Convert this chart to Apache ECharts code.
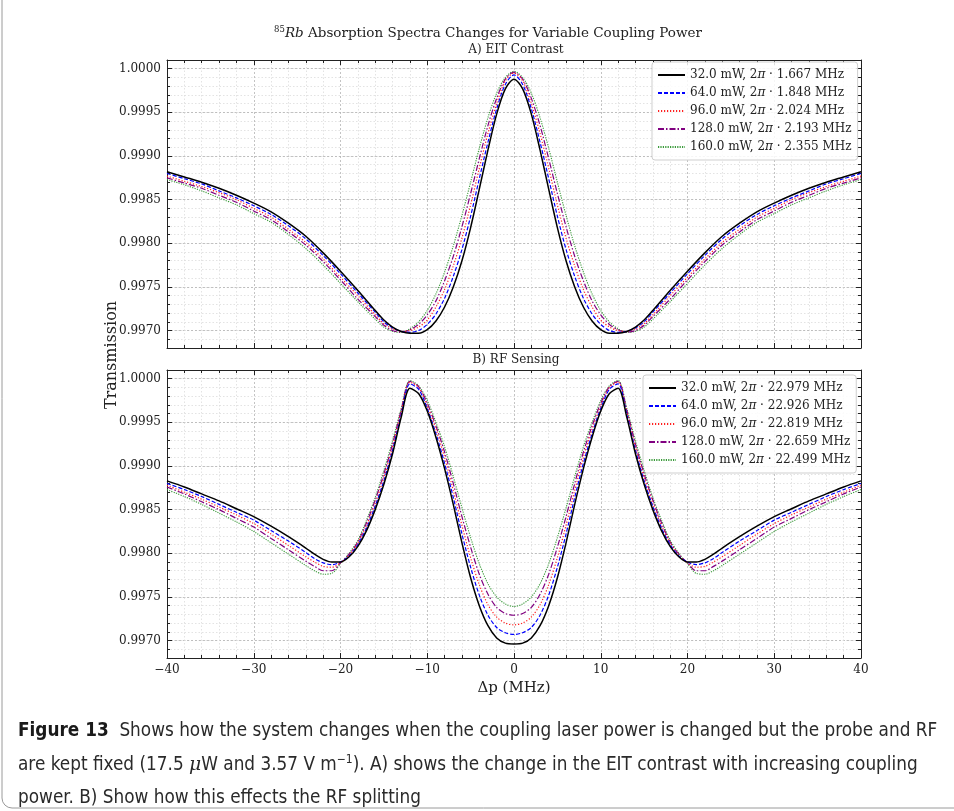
<!DOCTYPE html>
<html><head><meta charset="utf-8">
<script src="https://cdn.jsdelivr.net/npm/echarts@6/dist/echarts.min.js"></script>
<style>html,body{margin:0;padding:0;background:#fff}#c{width:954px;height:811px}</style>
</head><body><div id="c"></div>
<script>
// ---------- DATA ----------
const detuningA = [-40,-38,-36,-34,-32,-30,-28,-26,-24,-22,-20,-18,-16,-15,-14,-13,-12,-11,-10,-9,-8,-7,-6,-5,-4,-3,-2,-1,0,1,2,3,4,5,6,7,8,9,10,11,12,13,14,15,16,18,20,22,24,26,28,30,32,34,36,38,40];
const detuningB = [-40,-38,-36,-34,-32,-30,-28,-26,-24,-23,-22,-21,-20,-19,-18,-17,-16,-15,-14,-13,-12,-11,-10,-9,-8,-7,-6,-5,-4,-3,-2,-1,0,1,2,3,4,5,6,7,8,9,10,11,12,13,14,15,16,17,18,19,20,21,22,23,24,26,28,30,32,34,36,38,40];

const legendA = ['32.0 mW, 2π · 1.667 MHz','64.0 mW, 2π · 1.848 MHz','96.0 mW, 2π · 2.024 MHz','128.0 mW, 2π · 2.193 MHz','160.0 mW, 2π · 2.355 MHz'];
const legendB = ['32.0 mW, 2π · 22.979 MHz','64.0 mW, 2π · 22.926 MHz','96.0 mW, 2π · 22.819 MHz','128.0 mW, 2π · 22.659 MHz','160.0 mW, 2π · 22.499 MHz'];

// A) EIT contrast, transmission per coupling power
const eit32  = [0.99882,0.99876,0.99870,0.99863,0.99855,0.99846,0.99836,0.99823,0.99808,0.99789,0.99768,0.99746,0.99723,0.99712,0.99704,0.99699,0.99697,0.99697,0.99701,0.99711,0.99727,0.99750,0.99780,0.99818,0.99862,0.99907,0.99948,0.99977,0.99988,0.99977,0.99948,0.99907,0.99862,0.99818,0.99780,0.99750,0.99727,0.99711,0.99701,0.99697,0.99697,0.99699,0.99704,0.99712,0.99723,0.99746,0.99768,0.99789,0.99808,0.99823,0.99836,0.99846,0.99855,0.99863,0.99870,0.99876,0.99882];
const eit64  = [0.99880,0.99874,0.99868,0.99860,0.99852,0.99843,0.99833,0.99820,0.99805,0.99786,0.99765,0.99743,0.99721,0.99710,0.99703,0.99699,0.99698,0.99700,0.99707,0.99719,0.99737,0.99762,0.99793,0.99831,0.99874,0.99916,0.99954,0.99982,0.99993,0.99982,0.99954,0.99916,0.99874,0.99831,0.99793,0.99762,0.99737,0.99719,0.99707,0.99700,0.99698,0.99699,0.99703,0.99710,0.99721,0.99743,0.99765,0.99786,0.99805,0.99820,0.99833,0.99843,0.99852,0.99860,0.99868,0.99874,0.99880];
const eit96  = [0.99877,0.99871,0.99865,0.99858,0.99850,0.99840,0.99830,0.99816,0.99801,0.99782,0.99761,0.99740,0.99718,0.99708,0.99702,0.99699,0.99700,0.99704,0.99712,0.99727,0.99747,0.99774,0.99806,0.99844,0.99886,0.99926,0.99960,0.99986,0.99995,0.99986,0.99960,0.99926,0.99886,0.99844,0.99806,0.99774,0.99747,0.99727,0.99712,0.99704,0.99700,0.99699,0.99702,0.99708,0.99718,0.99740,0.99761,0.99782,0.99801,0.99816,0.99830,0.99840,0.99850,0.99858,0.99865,0.99871,0.99877];
const eit128 = [0.99875,0.99869,0.99863,0.99855,0.99847,0.99837,0.99827,0.99813,0.99798,0.99779,0.99758,0.99736,0.99716,0.99706,0.99700,0.99698,0.99701,0.99707,0.99718,0.99734,0.99757,0.99785,0.99819,0.99857,0.99897,0.99935,0.99966,0.99988,0.99996,0.99988,0.99966,0.99935,0.99897,0.99857,0.99819,0.99785,0.99757,0.99734,0.99718,0.99707,0.99701,0.99698,0.99700,0.99706,0.99716,0.99736,0.99758,0.99779,0.99798,0.99813,0.99827,0.99837,0.99847,0.99855,0.99863,0.99869,0.99875];
const eit160 = [0.99873,0.99867,0.99860,0.99852,0.99844,0.99834,0.99824,0.99810,0.99794,0.99775,0.99754,0.99733,0.99713,0.99704,0.99699,0.99698,0.99702,0.99710,0.99723,0.99742,0.99767,0.99797,0.99832,0.99870,0.99909,0.99944,0.99972,0.99990,0.99997,0.99990,0.99972,0.99944,0.99909,0.99870,0.99832,0.99797,0.99767,0.99742,0.99723,0.99710,0.99702,0.99698,0.99699,0.99704,0.99713,0.99733,0.99754,0.99775,0.99794,0.99810,0.99824,0.99834,0.99844,0.99852,0.99860,0.99867,0.99873];

// B) RF sensing, transmission per coupling power
const rf32  = [0.99883,0.99876,0.99868,0.99860,0.99851,0.99842,0.99831,0.99819,0.99806,0.99799,0.99793,0.99790,0.99790,0.99796,0.99808,0.99826,0.99850,0.99879,0.99914,0.99956,0.99989,0.99983,0.99963,0.99933,0.99897,0.99856,0.99812,0.99772,0.99740,0.99717,0.99703,0.99697,0.99696,0.99697,0.99703,0.99717,0.99740,0.99772,0.99812,0.99856,0.99897,0.99933,0.99963,0.99983,0.99989,0.99956,0.99914,0.99879,0.99850,0.99826,0.99808,0.99796,0.99790,0.99790,0.99793,0.99799,0.99806,0.99819,0.99831,0.99842,0.99851,0.99860,0.99868,0.99876,0.99883];
const rf64  = [0.99880,0.99873,0.99865,0.99856,0.99847,0.99838,0.99826,0.99814,0.99801,0.99794,0.99789,0.99787,0.99790,0.99797,0.99810,0.99829,0.99854,0.99883,0.99918,0.99959,0.99994,0.99988,0.99966,0.99937,0.99903,0.99864,0.99822,0.99784,0.99752,0.99729,0.99715,0.99709,0.99707,0.99709,0.99715,0.99729,0.99752,0.99784,0.99822,0.99864,0.99903,0.99937,0.99966,0.99988,0.99994,0.99959,0.99918,0.99883,0.99854,0.99829,0.99810,0.99797,0.99790,0.99787,0.99789,0.99794,0.99801,0.99814,0.99826,0.99838,0.99847,0.99856,0.99865,0.99873,0.99880];
const rf96  = [0.99878,0.99870,0.99862,0.99853,0.99844,0.99834,0.99822,0.99809,0.99796,0.99790,0.99785,0.99784,0.99789,0.99798,0.99812,0.99832,0.99857,0.99887,0.99922,0.99962,0.99996,0.99990,0.99969,0.99942,0.99910,0.99872,0.99832,0.99795,0.99764,0.99741,0.99727,0.99720,0.99718,0.99720,0.99727,0.99741,0.99764,0.99795,0.99832,0.99872,0.99910,0.99942,0.99969,0.99990,0.99996,0.99962,0.99922,0.99887,0.99857,0.99832,0.99812,0.99798,0.99789,0.99784,0.99785,0.99790,0.99796,0.99809,0.99822,0.99834,0.99844,0.99853,0.99862,0.99870,0.99878];
const rf128 = [0.99876,0.99868,0.99859,0.99850,0.99840,0.99830,0.99817,0.99804,0.99791,0.99785,0.99780,0.99780,0.99789,0.99799,0.99813,0.99835,0.99861,0.99891,0.99925,0.99964,0.99997,0.99991,0.99972,0.99946,0.99916,0.99880,0.99842,0.99807,0.99776,0.99753,0.99738,0.99731,0.99729,0.99731,0.99738,0.99753,0.99776,0.99807,0.99842,0.99880,0.99916,0.99946,0.99972,0.99991,0.99997,0.99964,0.99925,0.99891,0.99861,0.99835,0.99813,0.99799,0.99789,0.99780,0.99780,0.99785,0.99791,0.99804,0.99817,0.99830,0.99840,0.99850,0.99859,0.99868,0.99876];
const rf160 = [0.99873,0.99865,0.99856,0.99846,0.99836,0.99825,0.99812,0.99799,0.99786,0.99780,0.99776,0.99777,0.99788,0.99800,0.99815,0.99838,0.99864,0.99895,0.99929,0.99966,0.99998,0.99992,0.99975,0.99950,0.99922,0.99888,0.99852,0.99818,0.99788,0.99765,0.99750,0.99742,0.99739,0.99742,0.99750,0.99765,0.99788,0.99818,0.99852,0.99888,0.99922,0.99950,0.99975,0.99992,0.99998,0.99966,0.99929,0.99895,0.99864,0.99838,0.99815,0.99800,0.99788,0.99777,0.99776,0.99780,0.99786,0.99799,0.99812,0.99825,0.99836,0.99846,0.99856,0.99865,0.99873];

const xTicks = {min: -40, max: 40, step: 10};
const yRange = {min: 0.9968, max: 1.0001};

// ---------- CHART ----------
const SERIF = '"DejaVu Serif", serif';
const styles = [
  {color:'#000000', type:'solid', width:1.5},
  {color:'#0000ff', type:[4,2], width:1.2},
  {color:'#ff2020', type:[1.2,1.8], width:1.2},
  {color:'#800080', type:[6,2,1.5,2], width:1.2},
  {color:'#3a9a3a', type:[1.2,1.2], width:1.1}
];
const grids = [
  {left:167, top:60, width:694, height:288},
  {left:167, top:370, width:694, height:288}
];
const fmtMinus = v => (v < 0 ? '\u2212' + Math.abs(v) : String(v));

const xAxes = [], yAxes = [];
grids.forEach((g, gi) => {
  xAxes.push({
    type:'value', gridIndex:gi, position:'bottom', min:xTicks.min, max:xTicks.max, interval:xTicks.step,
    axisLine:{show:true, onZero:false, lineStyle:{color:'#222', width:1}},
    axisTick:{show:true, inside:true, length:5, lineStyle:{color:'#222'}},
    minorTick:{show:true, splitNumber:5, length:3, lineStyle:{color:'#222'}},
    splitLine:{show:true, lineStyle:{color:'#b4b4b4', type:[2,2], width:0.8}},
    minorSplitLine:{show:true, lineStyle:{color:'#dcdcdc', type:[1.5,2], width:0.8}},
    axisLabel:{show: gi === 1, formatter: fmtMinus, fontFamily:SERIF, fontSize:12, color:'#222', margin:6}
  });
  xAxes.push({
    type:'value', gridIndex:gi, position:'top', min:xTicks.min, max:xTicks.max, interval:xTicks.step,
    axisLine:{show:true, onZero:false, lineStyle:{color:'#222', width:1}},
    axisTick:{show:true, inside:true, length:5, lineStyle:{color:'#222'}},
    minorTick:{show:true, splitNumber:5, length:3, lineStyle:{color:'#222'}},
    splitLine:{show:false}, axisLabel:{show:false}
  });
  ['left','right'].forEach(pos => {
    yAxes.push({
      type:'value', gridIndex:gi, position:pos, min:yRange.min, max:yRange.max, interval:0.0001,
      axisLine:{show:false, onZero:false}, axisLabel:{show:false},
      axisTick:{show:true, inside:true, length:3, lineStyle:{color:'#222'}},
      splitLine:{show: pos === 'left', lineStyle:{color:'#dcdcdc', type:[1.5,2], width:0.8}}
    });
  });
  ['left','right'].forEach(pos => {
    yAxes.push({
      type:'value', gridIndex:gi, position:pos, min:yRange.min, max:yRange.max, splitNumber:6,
      axisLine:{show:true, onZero:false, lineStyle:{color:'#222', width:1}},
      axisTick:{show:true, inside:true, length:5, lineStyle:{color:'#222'}},
      splitLine:{show: pos === 'left', lineStyle:{color:'#b4b4b4', type:[2,2], width:0.8}},
      axisLabel:{show: pos === 'left', showMinLabel:false, showMaxLabel:false,
        formatter: v => v.toFixed(4), fontFamily:SERIF, fontSize:12, color:'#222', margin:6}
    });
  });
});

function makeSeries(gi, xs, arrays, names) {
  return arrays.map((ys, i) => ({
    type:'line', name:names[i], xAxisIndex: gi*2, yAxisIndex: gi*4 + 2,
    data: xs.map((x, k) => [x, ys[k]]),
    showSymbol:false, symbol:'none', smooth:0.3, clip:true,
    lineStyle:{color:styles[i].color, type:styles[i].type, width:styles[i].width},
    itemStyle:{color:styles[i].color},
    z: 10 - i, animation:false
  }));
}
const series = [
  ...makeSeries(0, detuningA, [eit32, eit64, eit96, eit128, eit160], legendA),
  ...makeSeries(1, detuningB, [rf32, rf64, rf96, rf128, rf160], legendB)
];

const legendBase = {
  orient:'vertical', itemWidth:27, itemHeight:10, itemGap:4,
  backgroundColor:'rgba(255,255,255,0.85)', borderColor:'#cfcfcf', borderWidth:1, borderRadius:3,
  padding:[6,6,6,5],
  itemStyle:{opacity:0, borderWidth:0},
  formatter: n => n.replace('π', '{i|π}'),
  textStyle:{fontFamily:SERIF, fontSize:12, color:'#222', lineHeight:14,
    rich:{i:{fontFamily:SERIF, fontStyle:'italic', fontSize:12, color:'#222'}}},
  selectedMode:false
};

const cap = '"Liberation Sans Narrow", "DejaVu Sans Condensed", "Noto Sans", sans-serif';
const option = {
  animation:false,
  backgroundColor:'#ffffff',
  grid: grids,
  xAxis: xAxes,
  yAxis: yAxes,
  series: series,
  legend: [
    Object.assign({}, legendBase, {data:legendA, left:652, top:62}),
    Object.assign({}, legendBase, {data:legendB, left:643, top:375})
  ],
  graphic: [
    {type:'rect', shape:{x:2, y:-20, width:1000, height:828, r:10}, style:{fill:null, stroke:'#9a9a9a', lineWidth:1}, silent:true},
    {type:'text', x:488, y:33, style:{text:'{sup|85}{it|Rb} Absorption Spectra Changes for Variable Coupling Power',
      textAlign:'center', textVerticalAlign:'middle', fill:'#222', fontFamily:SERIF, fontSize:13.5,
      rich:{sup:{fontSize:8.5, fontFamily:SERIF, verticalAlign:'top', lineHeight:16, fill:'#222'},
            it:{fontStyle:'italic', fontFamily:SERIF, fontSize:13.5, lineHeight:16, fill:'#222'}}}},
    {type:'text', x:516, y:50, style:{text:'A) EIT Contrast', textAlign:'center', textVerticalAlign:'middle', fill:'#222', fontFamily:SERIF, fontSize:12}},
    {type:'text', x:516, y:360, style:{text:'B) RF Sensing', textAlign:'center', textVerticalAlign:'middle', fill:'#222', fontFamily:SERIF, fontSize:12}},
    {type:'text', x:112, y:355, rotation:Math.PI/2, style:{text:'Transmission', textAlign:'center', textVerticalAlign:'middle', fill:'#222', fontFamily:SERIF, fontSize:16}},
    {type:'text', x:514, y:688, style:{text:'Δp (MHz)', textAlign:'center', textVerticalAlign:'middle', fill:'#222', fontFamily:SERIF, fontSize:15}},
    {type:'text', x:18, y:731, style:{text:'{b|Figure 13}  Shows how the system changes when the coupling laser power is changed but the probe and RF',
      textVerticalAlign:'middle', fill:'#2a2a2a', fontFamily:cap, fontSize:18.8,
      rich:{b:{fontWeight:'bold', fontFamily:cap, fontSize:18.8, fill:'#1a1a1a'}}}},
    {type:'text', x:18, y:765, style:{text:'are kept fixed (17.5 {mu|μ}W and 3.57 V m{sup|−1}). A) shows the change in the EIT contrast with increasing coupling',
      textVerticalAlign:'middle', fill:'#2a2a2a', fontFamily:cap, fontSize:18.8,
      rich:{mu:{fontStyle:'italic', fontFamily:'"DejaVu Serif", serif', fontSize:18.8, fill:'#2a2a2a'},
            sup:{fontSize:12, fontFamily:cap, verticalAlign:'top', lineHeight:22, fill:'#2a2a2a'}}}},
    {type:'text', x:18, y:798, style:{text:'power. B) Show how this effects the RF splitting',
      textVerticalAlign:'middle', fill:'#2a2a2a', fontFamily:cap, fontSize:18.8}}
  ]
};
const chart = echarts.init(document.getElementById('c'), null, {renderer:'canvas'});
chart.setOption(option);
</script></body></html>
